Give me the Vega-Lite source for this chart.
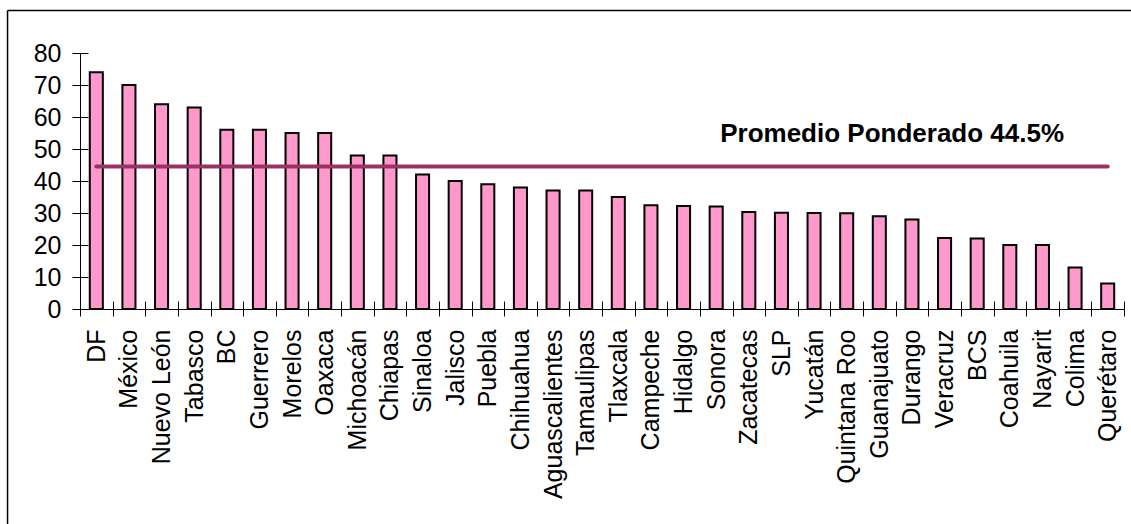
{
  "$schema": "https://vega.github.io/schema/vega-lite/v6.json",
  "autosize": {"type": "none"},
  "padding": {"left": 80, "top": 53, "right": 7, "bottom": 215},
  "width": 1044,
  "height": 256,
  "background": "white",
  "config": {"view": {"stroke": null}, "font": "Liberation Sans", "axis": {"grid": false}},
  "data": {"values": [
    {"estado": "DF", "valor": 74},
    {"estado": "México", "valor": 70},
    {"estado": "Nuevo León", "valor": 64},
    {"estado": "Tabasco", "valor": 63},
    {"estado": "BC", "valor": 56},
    {"estado": "Guerrero", "valor": 56},
    {"estado": "Morelos", "valor": 55},
    {"estado": "Oaxaca", "valor": 55},
    {"estado": "Michoacán", "valor": 48},
    {"estado": "Chiapas", "valor": 48},
    {"estado": "Sinaloa", "valor": 42},
    {"estado": "Jalisco", "valor": 40},
    {"estado": "Puebla", "valor": 39},
    {"estado": "Chihuahua", "valor": 38},
    {"estado": "Aguascalientes", "valor": 37},
    {"estado": "Tamaulipas", "valor": 37},
    {"estado": "Tlaxcala", "valor": 35},
    {"estado": "Campeche", "valor": 32.4},
    {"estado": "Hidalgo", "valor": 32.2},
    {"estado": "Sonora", "valor": 32},
    {"estado": "Zacatecas", "valor": 30.3},
    {"estado": "SLP", "valor": 30.1},
    {"estado": "Yucatán", "valor": 30},
    {"estado": "Quintana Roo", "valor": 29.9},
    {"estado": "Guanajuato", "valor": 29},
    {"estado": "Durango", "valor": 28},
    {"estado": "Veracruz", "valor": 22.2},
    {"estado": "BCS", "valor": 22},
    {"estado": "Coahuila", "valor": 20},
    {"estado": "Nayarit", "valor": 20},
    {"estado": "Colima", "valor": 13},
    {"estado": "Querétaro", "valor": 8}
  ]},
  "resolve": {"scale": {"x": "independent", "y": "shared"}, "axis": {"x": "independent", "y": "independent"}},
  "layer": [
    {
      "resolve": {"scale": {"x": "shared", "y": "shared"}, "axis": {"x": "independent", "y": "independent"}},
      "layer": [
        {
          "mark": {"type": "bar", "fill": "#FF99CC", "stroke": "#000000", "strokeWidth": 2, "width": {"band": 0.4}},
          "encoding": {
            "x": {
              "field": "estado", "type": "nominal", "sort": null,
              "scale": {
                "domain": ["DF", "México", "Nuevo León", "Tabasco", "BC", "Guerrero", "Morelos", "Oaxaca", "Michoacán", "Chiapas", "Sinaloa", "Jalisco", "Puebla", "Chihuahua", "Aguascalientes", "Tamaulipas", "Tlaxcala", "Campeche", "Hidalgo", "Sonora", "Zacatecas", "SLP", "Yucatán", "Quintana Roo", "Guanajuato", "Durango", "Veracruz", "BCS", "Coahuila", "Nayarit", "Colima", "Querétaro"],
                "paddingInner": 0, "paddingOuter": 0
              },
              "axis": {
                "orient": "bottom", "domain": true, "domainColor": "#000000", "domainWidth": 1,
                "tickBand": "extent", "tickSize": 7, "tickColor": "#000000", "tickWidth": 1,
                "labelAngle": -90, "labelAlign": "right", "labelBaseline": "middle", "labelPadding": 13,
                "labelFontSize": 25, "labelColor": "#000000", "labelFont": "Liberation Sans", "labelOverlap": false,
                "title": null
              }
            },
            "y": {
              "field": "valor", "type": "quantitative",
              "scale": {"domain": [0, 80], "nice": false, "zero": false},
              "axis": {
                "orient": "left", "domain": true, "domainColor": "#000000", "domainWidth": 1,
                "values": [0, 10, 20, 30, 40, 50, 60, 70, 80],
                "tickSize": 8, "tickColor": "#000000", "tickWidth": 1, "labelPadding": 11,
                "labelFontSize": 25, "labelColor": "#000000", "labelFont": "Liberation Sans", "title": null
              }
            }
          }
        },
        {
          "mark": {"type": "line", "color": "#993366", "strokeWidth": 4, "strokeCap": "round"},
          "encoding": {
            "x": {
              "field": "estado", "type": "nominal", "sort": null,
              "axis": {"orient": "bottom", "domain": false, "labels": false, "tickBand": "extent", "tickSize": -8, "tickColor": "#000000", "tickWidth": 1, "title": null}
            },
            "y": {
              "datum": 44.5,
              "axis": {"orient": "left", "domain": false, "labels": false, "values": [0, 10, 20, 30, 40, 50, 60, 70, 80], "tickSize": -8, "tickColor": "#000000", "tickWidth": 1, "title": null}
            }
          }
        },
        {
          "data": {"values": [{}]},
          "mark": {"type": "text", "align": "left", "baseline": "alphabetic", "fontWeight": "bold", "fontSize": 26, "font": "Liberation Sans", "fill": "#000000", "dx": 4},
          "encoding": {
            "x": {"datum": "Sonora", "axis": null},
            "y": {"datum": 52.3, "axis": null},
            "text": {"value": "Promedio Ponderado 44.5%"}
          }
        }
      ]
    },
    {
      "data": {"values": [{}]},
      "mark": {"type": "rule", "color": "#000000", "strokeWidth": 1.5},
      "encoding": {
        "x": {"datum": -0.0694, "type": "quantitative", "scale": {"domain": [0, 1], "nice": false, "zero": false}, "axis": null},
        "x2": {"datum": 1.02},
        "y": {"datum": 93.28, "axis": null}
      }
    },
    {
      "data": {"values": [{}]},
      "mark": {"type": "rule", "color": "#000000", "strokeWidth": 1.5},
      "encoding": {
        "x": {"datum": -0.0694, "type": "quantitative", "scale": {"domain": [0, 1], "nice": false, "zero": false}, "axis": null},
        "y": {"datum": -70, "axis": null},
        "y2": {"datum": 93.28}
      }
    }
  ]
}
